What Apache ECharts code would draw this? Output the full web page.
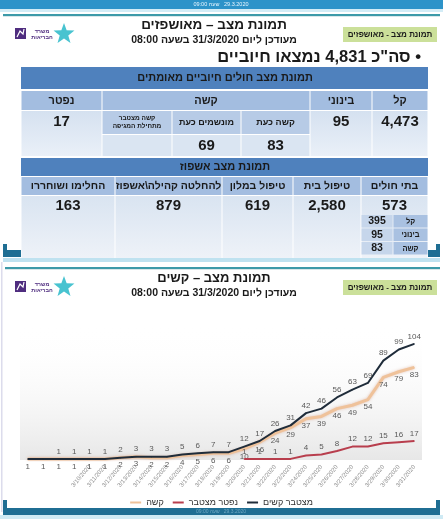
<!DOCTYPE html>
<html><head><meta charset="utf-8">
<script src="https://cdn.jsdelivr.net/npm/echarts@6/dist/echarts.min.js"></script>
<style>html,body{margin:0;padding:0;background:#fff}#c{width:443px;height:519px;direction:rtl}</style>
</head><body><div id="c"></div>
<script>
// ---------- data ----------
const dates = ['', '', '', '', '3/10/2020', '3/11/2020', '3/12/2020', '3/13/2020', '3/14/2020', '3/15/2020',
  '3/16/2020', '3/17/2020', '3/18/2020', '3/19/2020', '3/20/2020', '3/21/2020', '3/22/2020', '3/23/2020',
  '3/24/2020', '3/25/2020', '3/26/2020', '3/27/2020', '3/28/2020', '3/29/2020', '3/30/2020', '3/31/2020'];
const cumulSevere = [1, 1, 1, 1, 1, 1, 2, 3, 3, 3, 5, 6, 7, 7, 12, 17, 26, 31, 42, 46, 56, 63, 69, 89, 99, 104];
const currentSevere = [1, 1, 1, 1, 1, 1, 2, 3, 2, 2, 4, 5, 6, 6, 10, 16, 24, 29, 37, 39, 46, 49, 54, 74, 79, 83];
const deceased = [null, null, null, null, null, null, null, null, null, null, null, null, null, null,
  1, 1, 1, 1, 4, 5, 8, 12, 12, 15, 16, 17];
const seriesNames = ['קשה', 'נפטר מצטבר', 'מצטבר קשים'];

const table1Heads = ['נפטר', 'קשה', 'בינוני', 'קל'];
const table1SubHeads = ['קשה מצטבר\nמתחילת המגיפה', 'מונשמים כעת', 'קשה כעת'];
const table1Values = ['17', '', '69', '83', '95', '4,473'];
const table2Heads = ['החלימו ושוחררו', 'להחלטה קהילה\\אשפוז', 'טיפול במלון', 'טיפול בית', 'בתי חולים'];
const table2Values = ['163', '879', '619', '2,580', '573'];
const hospitalLabels = ['קל', 'בינוני', 'קשה'];
const hospitalValues = ['395', '95', '83'];

// ---------- drawing helpers ----------
const FONT = 'Liberation Sans, Arial, sans-serif';
const g = [];
function rect(x, y, w, h, fill) {
  g.push({type: 'rect', silent: true, shape: {x: x, y: y, width: w, height: h}, style: {fill: fill}});
}
function vgrad(c1, c2) {
  return {type: 'linear', x: 0, y: 0, x2: 0, y2: 1, colorStops: [{offset: 0, color: c1}, {offset: 1, color: c2}]};
}
function text(x, y, str, size, o) {
  o = o || {};
  g.push({type: 'text', silent: true, x: x, y: y, style: {
    text: str, fontSize: size, fontWeight: o.weight || 'bold', fontFamily: FONT,
    fill: o.color || '#1a1a1a', align: o.align || 'center', verticalAlign: 'middle',
    textAlign: o.align || 'center', textVerticalAlign: 'middle', lineHeight: o.lh || size + 2
  }});
}
function logo(y0) {
  rect(15, y0 + 3, 11, 11, '#4f2d7f');
  g.push({type: 'polyline', silent: true, shape: {points: [[17, y0 + 12], [20, y0 + 6], [23, y0 + 9], [24, y0 + 4]]},
    style: {stroke: '#ffffff', lineWidth: 1.2, fill: null}});
  text(42, y0 + 6, 'משרד', 5.5, {color: '#4f2d7f'});
  text(42, y0 + 12, 'הבריאות', 5.5, {color: '#4f2d7f'});
  const pts = [];
  for (let i = 0; i < 10; i++) {
    const r = i % 2 === 0 ? 11 : 4.5;
    const a = -Math.PI / 2 + i * Math.PI / 5;
    pts.push([64 + r * Math.cos(a), y0 + 9 + r * Math.sin(a)]);
  }
  g.push({type: 'polygon', silent: true, shape: {points: pts}, style: {fill: 'rgba(40,185,200,0.85)'}});
}
function slideHead(y0, title, titleSize) {
  rect(343, y0 + 2, 94, 15, '#cbe09a');
  text(390, y0 + 9.5, 'תמונת מצב - מאושפזים', 8);
  text(214, y0, title, titleSize);
  text(214, y0 + 15, 'מעודכן ליום 31/3/2020 בשעה 08:00', 10.5);
  logo(y0);
}

// ---------- slide 1 ----------
rect(0, 0, 443, 9, '#2d93c9');
text(221, 4.5, '29.3.2020   שעה 09:00', 5.5, {color: '#e8f6ff', weight: 'normal'});
rect(0, 9, 443, 3, '#d3ecf6');
rect(3, 14, 437, 2, '#3d9aa9');
rect(3, 16, 437, 1, '#d8e8ea');
slideHead(25, 'תמונת מצב – מאושפזים', 13.5);
text(421, 57, '• סה"כ 4,831 נמצאו חיוביים', 16.5, {align: 'right'});

rect(3, 250, 437, 7, '#1f6e93');
rect(3, 244, 4, 13, '#1f6e93');
rect(436, 244, 4, 13, '#1f6e93');

// table 1
const T1X = [21, 102, 172, 241, 310, 372, 428];
rect(21, 67, 407, 22, '#4f81bd');
text(225, 78, 'תמונת מצב חולים חיוביים מאומתים', 11);
rect(21, 89, 407, 68, '#ffffff');
const t1Spans = [[0, 1], [1, 4], [4, 5], [5, 6]];
t1Spans.forEach(function (s, i) {
  rect(T1X[s[0]] + 0.5, 91, T1X[s[1]] - T1X[s[0]] - 1, 19, '#a3bde0');
  text((T1X[s[0]] + T1X[s[1]]) / 2, 100.5, table1Heads[i], 11);
});
[[0, 1, 0], [4, 5, 4], [5, 6, 5]].forEach(function (s) {
  rect(T1X[s[0]] + 0.5, 111, T1X[s[1]] - T1X[s[0]] - 1, 45, vgrad('#d5e1f0', '#eaf0f8'));
  text((T1X[s[0]] + T1X[s[1]]) / 2, 122, table1Values[s[2]], 15);
});
for (let i = 0; i < 3; i++) {
  const x0 = T1X[1 + i], x1 = T1X[2 + i];
  rect(x0 + 0.5, 111, x1 - x0 - 1, 23, '#b7cbe6');
  text((x0 + x1) / 2, 122.5, table1SubHeads[i], i === 0 ? 6.5 : 9, {lh: 8});
  rect(x0 + 0.5, 135, x1 - x0 - 1, 21, '#dae5f2');
  text((x0 + x1) / 2, 145.5, table1Values[1 + i], 15);
}

// table 2
const T2X = [21, 115, 222, 293, 361, 428];
rect(21, 158, 407, 18, '#4f81bd');
text(225, 167, 'תמונת מצב אשפוז', 11);
rect(21, 176, 407, 82, '#ffffff');
for (let i = 0; i < 5; i++) {
  const x0 = T2X[i], x1 = T2X[i + 1];
  rect(x0 + 0.5, 177, x1 - x0 - 1, 18, '#a3bde0');
  text((x0 + x1) / 2, 186.5, table2Heads[i], 10.5);
  rect(x0 + 0.5, 196, x1 - x0 - 1, 62, vgrad('#d9e4f1', '#eef2f8'));
  text((x0 + x1) / 2, 206, table2Values[i], 15);
}
for (let i = 0; i < 3; i++) {
  const y = 215 + i * 13.5;
  rect(361.5, y, 31, 12.5, '#c6d6eb');
  rect(393.5, y, 34, 12.5, '#a9c1e1');
  text(377, y + 6.5, hospitalValues[i], 10.5);
  text(410.5, y + 6.5, hospitalLabels[i], 7.5);
}
rect(3, 258, 437, 4, '#bfe2f0');

// ---------- slide 2 ----------
rect(1, 262, 1.5, 250, '#dcdcec');
rect(5, 267, 435, 2, '#3d9aa9');
rect(5, 269, 435, 1, '#d8e8ea');
slideHead(278, 'תמונת מצב – קשים', 13);

rect(3, 508, 437, 7, '#1f6e93');
rect(3, 500, 4, 15, '#1f6e93');
rect(436, 500, 4, 15, '#1f6e93');
text(221, 511.5, '29.3.2020   שעה 09:00', 5, {color: '#6fa9c4', weight: 'normal'});
rect(0, 515, 443, 4, '#cfeaf4');

// ---------- chart ----------
const labelBase = {show: true, fontSize: 8, color: '#595959', fontFamily: FONT, distance: 3};
const chart = echarts.init(document.getElementById('c'), null, {renderer: 'canvas'});
chart.setOption({
  animation: false,
  backgroundColor: '#ffffff',
  graphic: {elements: g},
  grid: {left: 20, right: 21, top: 326, bottom: 59, show: true, borderWidth: 0,
    backgroundColor: vgrad('rgba(255,255,255,0)', '#e7e7e7')},
  xAxis: {type: 'category', data: dates, boundaryGap: true,
    axisLine: {show: false}, axisTick: {show: false}, splitLine: {show: false},
    axisLabel: {rotate: 50, fontSize: 6, color: '#8c8c8c', margin: 6, interval: 0, fontFamily: FONT}},
  yAxis: {type: 'value', min: 0, max: 120, show: false},
  legend: {top: 493, left: 'center', icon: 'rect', itemWidth: 11, itemHeight: 2, itemGap: 9,
    textStyle: {fontSize: 9, color: '#333333', fontFamily: FONT},
    data: seriesNames},
  series: [
    {name: seriesNames[0], type: 'line', data: currentSevere, symbol: 'circle', symbolSize: 1, z: 2,
      lineStyle: {color: '#efc29a', width: 3, shadowColor: 'rgba(190,100,60,0.35)', shadowBlur: 3},
      itemStyle: {color: '#efc29a'},
      label: Object.assign({}, labelBase, {position: 'bottom'})},
    {name: seriesNames[1], type: 'line', data: deceased, symbol: 'circle', symbolSize: 1, z: 3,
      lineStyle: {color: '#b83e4d', width: 2},
      itemStyle: {color: '#b83e4d'},
      label: Object.assign({}, labelBase, {position: 'top'})},
    {name: seriesNames[2], type: 'line', symbol: 'circle', symbolSize: 1, z: 4,
      data: cumulSevere.map(function (v, i) { return i < 2 ? {value: v, label: {show: false}} : v; }),
      lineStyle: {color: '#1f2c3a', width: 2},
      itemStyle: {color: '#1f2c3a'},
      label: Object.assign({}, labelBase, {position: 'top'})}
  ]
});
</script></body></html>
